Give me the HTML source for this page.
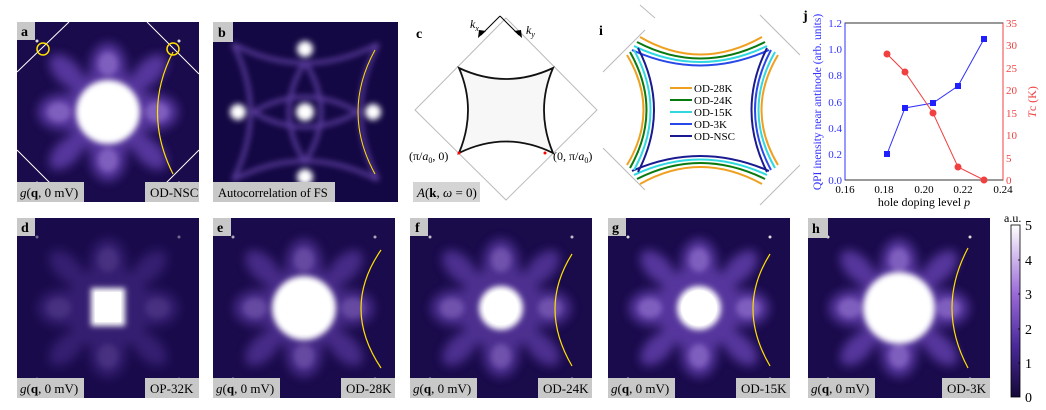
<!DOCTYPE html>
<html><head><meta charset="utf-8"><style>
body{margin:0;background:#fff;width:1046px;height:410px;overflow:hidden}
svg{display:block;font-family:"Liberation Serif",serif}
</style></head><body>
<svg width="1046" height="410" viewBox="0 0 1046 410" xmlns="http://www.w3.org/2000/svg">
<defs>
<filter id="bl" x="-20%" y="-20%" width="140%" height="140%"><feGaussianBlur stdDeviation="5"/></filter>
<filter id="bl2" x="-20%" y="-20%" width="140%" height="140%"><feGaussianBlur stdDeviation="3"/></filter>
<linearGradient id="cb" x1="0" y1="1" x2="0" y2="0">
<stop offset="0" stop-color="#140838"/><stop offset="0.3" stop-color="#4a2a9a"/><stop offset="0.6" stop-color="#9a6ad8"/><stop offset="1" stop-color="#ffffff"/></linearGradient>
<g id="lobes">
<rect width="182" height="180" fill="#1a0b4c"/>
<g filter="url(#bl)" fill="#6a44b8" opacity="0.75">
<ellipse cx="91" cy="45" rx="18" ry="24"/><ellipse cx="91" cy="135" rx="18" ry="24"/>
<ellipse cx="45" cy="90" rx="24" ry="18"/><ellipse cx="137" cy="90" rx="24" ry="18"/>
<ellipse cx="50" cy="50" rx="22" ry="12" transform="rotate(45 50 50)"/>
<ellipse cx="132" cy="50" rx="22" ry="12" transform="rotate(-45 132 50)"/>
<ellipse cx="50" cy="130" rx="22" ry="12" transform="rotate(-45 50 130)"/>
<ellipse cx="132" cy="130" rx="22" ry="12" transform="rotate(45 132 130)"/>
<circle cx="91" cy="90" r="42"/>
</g>
<g filter="url(#bl2)" fill="#a888e0" opacity="0.5">
<ellipse cx="91" cy="42" rx="10" ry="12"/><ellipse cx="91" cy="138" rx="10" ry="12"/>
<ellipse cx="42" cy="90" rx="12" ry="10"/><ellipse cx="140" cy="90" rx="12" ry="10"/>
</g>
<g fill="#ddd"><circle cx="20" cy="19" r="1.5"/><circle cx="162" cy="19" r="1.5"/><circle cx="20" cy="161" r="1.5"/><circle cx="162" cy="161" r="1.5"/></g>
</g>
</defs>

<!-- a -->
<g transform="translate(17,22)">
<use href="#lobes"/>
<circle cx="91" cy="90" r="32" fill="#fff" filter="url(#bl2)"/>
<circle cx="91" cy="90" r="24" fill="#fff"/>
<g stroke="#fff" stroke-width="1"><line x1="0" y1="50" x2="52" y2="0"/><line x1="130" y1="0" x2="182" y2="52"/><line x1="0" y1="128" x2="52" y2="180"/><line x1="130" y1="180" x2="182" y2="128"/></g>
<circle cx="26" cy="27" r="6" fill="none" stroke="#ffe000" stroke-width="1.5"/>
<circle cx="156" cy="27" r="6" fill="none" stroke="#ffe000" stroke-width="1.5"/>
<path d="M156 30 Q125 90 156 152" fill="none" stroke="#ffe000" stroke-width="1.2"/>
<rect width="18" height="18" fill="#c8c8c8"/><text x="4" y="14" font-size="14" font-weight="bold">a</text>
<rect x="0" y="160" width="67" height="20" fill="#c8c8c8"/><text x="3" y="175" font-size="13"><tspan font-style="italic">g</tspan>(<tspan font-weight="bold">q</tspan>, 0 mV)</text>
<rect x="128" y="160" width="54" height="20" fill="#c8c8c8"/><text x="133" y="175" font-size="13">OD-NSC</text>
</g>
<!-- b -->
<g transform="translate(213,22)">
<rect width="185" height="180" fill="#140844"/>
<g fill="none" stroke="#8a60d8" stroke-width="4" opacity="0.6" filter="url(#bl2)">
<path d="M20 22 Q92 60 165 22 M20 158 Q92 120 165 158 M20 22 Q55 90 20 158 M165 22 Q130 90 165 158"/>
<path d="M92 40 Q60 90 92 140 Q124 90 92 40 M40 90 Q92 60 145 90 Q92 120 40 90"/>
</g>
<g fill="#fff" filter="url(#bl2)"><circle cx="92" cy="90" r="9"/><circle cx="92" cy="27" r="8"/><circle cx="92" cy="155" r="8"/><circle cx="25" cy="90" r="8"/><circle cx="160" cy="90" r="8"/></g>
<path d="M162 28 Q128 90 162 152" fill="none" stroke="#ffe000" stroke-width="1"/>
<rect width="20" height="20" fill="#c8c8c8"/><text x="5" y="15" font-size="14" font-weight="bold">b</text>
<rect x="0" y="160" width="122" height="20" fill="#c8c8c8"/><text x="5" y="175" font-size="12.5">Autocorrelation of FS</text>
</g>
<!-- c -->
<g>
<polygon points="506,18 597,110 506,200 415,110" fill="#fff" stroke="#bbb" stroke-width="1"/>
<path d="M459 68 Q506 90 553 68 Q535 110 553 153 Q506 130 459 153 Q477 110 459 68Z" fill="#f7f7f7" stroke="#111" stroke-width="1.8"/>
<circle cx="459" cy="153" r="1.5" fill="red"/><circle cx="545" cy="153" r="1.5" fill="red"/>
<path d="M500 16 L481 35 M500 16 L519 35" stroke="#000" stroke-width="1" fill="none"/>
<path d="M478 38 l1-8 l7 1z M522 38 l-1-8 l-7 1z" fill="#000"/>
<text x="470" y="28" font-size="12" font-style="italic">k<tspan font-size="8" dy="3">x</tspan></text>
<text x="526" y="34" font-size="12" font-style="italic">k<tspan font-size="8" dy="3">y</tspan></text>
<text x="416" y="38" font-size="14" font-weight="bold">c</text>
<text x="409" y="160" font-size="12">(π/<tspan font-style="italic">a</tspan><tspan font-size="8" dy="3">0</tspan><tspan dy="-3">, 0)</tspan></text>
<text x="553" y="160" font-size="12">(0, π/<tspan font-style="italic">a</tspan><tspan font-size="8" dy="3">0</tspan><tspan dy="-3">)</tspan></text>
<rect x="413" y="182" width="67" height="20" fill="#d4d4d4"/>
<text x="417" y="197" font-size="13"><tspan font-style="italic">A</tspan>(<tspan font-weight="bold">k</tspan>, <tspan font-style="italic">ω</tspan> = 0)</text>
</g>
<!-- i -->
<g>
<text x="599" y="35" font-size="14" font-weight="bold">i</text>
<g stroke="#bbb" stroke-width="1" fill="none"><path d="M603 72 L645 30 M603 148 L645 190 M760 15 L800 55 M760 205 L800 165 M655 18 L640 5"/></g>
<g fill="none" stroke-width="2">
<path d="M640 37 Q700 72 762 37" stroke="#f0a020"/><path d="M637 42 Q700 75 765 42" stroke="#0a7a10"/><path d="M634 46 Q700 78 767 46" stroke="#30d8e0"/><path d="M632 50 Q700 81 769 50" stroke="#2848e8"/>
<path d="M640 184 Q700 150 762 184" stroke="#f0a020"/><path d="M637 179 Q700 147 765 179" stroke="#0a7a10"/><path d="M634 175 Q700 144 767 175" stroke="#30d8e0"/><path d="M632 171 Q700 141 769 171" stroke="#1a1a90"/>
<path d="M627 55 Q660 110 627 165" stroke="#f0a020"/><path d="M630 52 Q663 110 630 168" stroke="#0a7a10"/><path d="M634 50 Q667 110 634 170" stroke="#30d8e0"/><path d="M638 48 Q670 110 638 172" stroke="#1a1a90"/>
<path d="M778 55 Q745 110 778 165" stroke="#f0a020"/><path d="M775 52 Q742 110 775 168" stroke="#30d8e0"/><path d="M771 50 Q739 110 771 170" stroke="#2848e8"/><path d="M767 48 Q736 110 767 172" stroke="#1a1a90"/>
</g>
<g stroke-width="2"><line x1="670" y1="88" x2="692" y2="88" stroke="#f0a020"/><line x1="670" y1="100" x2="692" y2="100" stroke="#0a7a10"/><line x1="670" y1="112" x2="692" y2="112" stroke="#30d8e0"/><line x1="670" y1="124" x2="692" y2="124" stroke="#2848e8"/><line x1="670" y1="136" x2="692" y2="136" stroke="#1a1a90"/></g>
<g font-size="11"><text x="694" y="92">OD-28K</text><text x="694" y="104">OD-24K</text><text x="694" y="116">OD-15K</text><text x="694" y="128">OD-3K</text><text x="694" y="140">OD-NSC</text></g>
</g>
<!-- j -->
<g>
<text x="803" y="20" font-size="14" font-weight="bold">j</text>
<rect x="845" y="23" width="158" height="157" fill="none" stroke="#000" stroke-width="0.8"/>
<line x1="845" y1="23" x2="845" y2="180" stroke="#3030ff" stroke-width="1"/>
<line x1="1003" y1="23" x2="1003" y2="180" stroke="#f04040" stroke-width="1"/>
<g font-size="11" text-anchor="end" fill="#3030ff">
<text x="842" y="27">1.2</text><text x="842" y="53">1.0</text><text x="842" y="79">0.8</text><text x="842" y="106">0.6</text><text x="842" y="132">0.4</text><text x="842" y="158">0.2</text><text x="842" y="184">0.0</text></g>
<g font-size="11" fill="#f04040">
<text x="1006" y="27">35</text><text x="1006" y="49">30</text><text x="1006" y="72">25</text><text x="1006" y="94">20</text><text x="1006" y="117">15</text><text x="1006" y="139">10</text><text x="1006" y="162">5</text><text x="1006" y="184">0</text></g>
<g font-size="11" text-anchor="middle"><text x="845" y="193">0.16</text><text x="884" y="193">0.18</text><text x="924" y="193">0.20</text><text x="963" y="193">0.22</text><text x="1003" y="193">0.24</text></g>
<text x="924" y="206" font-size="12" text-anchor="middle">hole doping level <tspan font-style="italic">p</tspan></text>
<text transform="translate(821,102) rotate(-90)" font-size="11.5" text-anchor="middle" fill="#3030ff">QPI inensity near antinode (arb. units)</text>
<text transform="translate(1036,102) rotate(-90)" font-size="12" text-anchor="middle" fill="#f04040"><tspan font-style="italic">T</tspan>c (K)</text>
<polyline points="887,154 905,108 933,103 958,86 984,39" fill="none" stroke="#3030ff" stroke-width="1"/>
<g fill="#2020ff"><rect x="884" y="151" width="6" height="6"/><rect x="902" y="105" width="6" height="6"/><rect x="930" y="100" width="6" height="6"/><rect x="955" y="83" width="6" height="6"/><rect x="981" y="36" width="6" height="6"/></g>
<polyline points="887,54 905,72 933,113 958,167 984,180" fill="none" stroke="#f04040" stroke-width="1"/>
<g fill="#f04040"><circle cx="887" cy="54" r="3.5"/><circle cx="905" cy="72" r="3.5"/><circle cx="933" cy="113" r="3.5"/><circle cx="958" cy="167" r="3.5"/><circle cx="984" cy="180" r="3.5"/></g>
</g>

<!-- bottom row -->
<g transform="translate(17,218)"><use href="#lobes"/><rect width="182" height="180" fill="#1a0b4c" opacity="0.55"/><rect x="74" y="70" width="34" height="38" fill="#fff" filter="url(#bl2)"/><rect x="78" y="74" width="26" height="30" fill="#fff"/>
<rect width="18" height="18" fill="#c8c8c8"/><text x="4" y="14" font-size="14" font-weight="bold">d</text>
<rect x="0" y="160" width="67" height="20" fill="#c8c8c8"/><text x="3" y="175" font-size="13"><tspan font-style="italic">g</tspan>(<tspan font-weight="bold">q</tspan>, 0 mV)</text>
<rect x="128" y="160" width="54" height="20" fill="#c8c8c8"/><text x="133" y="175" font-size="13">OP-32K</text></g>

<g transform="translate(213,218)"><use href="#lobes"/><rect width="182" height="180" fill="#1a0b4c" opacity="0.25"/><circle cx="91" cy="90" r="32" fill="#fff" filter="url(#bl2)"/><circle cx="91" cy="90" r="26" fill="#fff"/>
<path d="M168 32 Q128 90 168 150" fill="none" stroke="#ffe000" stroke-width="1.2"/>
<rect width="18" height="18" fill="#c8c8c8"/><text x="4" y="14" font-size="14" font-weight="bold">e</text>
<rect x="0" y="160" width="67" height="20" fill="#c8c8c8"/><text x="3" y="175" font-size="13"><tspan font-style="italic">g</tspan>(<tspan font-weight="bold">q</tspan>, 0 mV)</text>
<rect x="128" y="160" width="54" height="20" fill="#c8c8c8"/><text x="133" y="175" font-size="13">OD-28K</text></g>

<g transform="translate(410,218)"><use href="#lobes"/><rect width="182" height="180" fill="#1a0b4c" opacity="0.15"/><circle cx="91" cy="90" r="22" fill="#fff" filter="url(#bl2)"/><circle cx="91" cy="90" r="17" fill="#fff"/>
<path d="M162 36 Q128 90 162 148" fill="none" stroke="#ffe000" stroke-width="1.2"/>
<rect width="18" height="18" fill="#c8c8c8"/><text x="5" y="14" font-size="14" font-weight="bold">f</text>
<rect x="0" y="160" width="67" height="20" fill="#c8c8c8"/><text x="3" y="175" font-size="13"><tspan font-style="italic">g</tspan>(<tspan font-weight="bold">q</tspan>, 0 mV)</text>
<rect x="128" y="160" width="54" height="20" fill="#c8c8c8"/><text x="133" y="175" font-size="13">OD-24K</text></g>

<g transform="translate(608,218)"><use href="#lobes"/><circle cx="91" cy="90" r="22" fill="#fff" filter="url(#bl2)"/><circle cx="91" cy="90" r="18" fill="#fff"/>
<path d="M162 36 Q128 90 162 148" fill="none" stroke="#ffe000" stroke-width="1.2"/>
<rect width="18" height="18" fill="#c8c8c8"/><text x="4" y="14" font-size="14" font-weight="bold">g</text>
<rect x="0" y="160" width="67" height="20" fill="#c8c8c8"/><text x="3" y="175" font-size="13"><tspan font-style="italic">g</tspan>(<tspan font-weight="bold">q</tspan>, 0 mV)</text>
<rect x="128" y="160" width="54" height="20" fill="#c8c8c8"/><text x="133" y="175" font-size="13">OD-15K</text></g>

<g transform="translate(808,218)"><use href="#lobes"/><circle cx="91" cy="90" r="36" fill="#fff" filter="url(#bl2)"/><circle cx="91" cy="90" r="29" fill="#fff"/>
<path d="M160 30 Q128 90 160 150" fill="none" stroke="#ffe000" stroke-width="1.2"/>
<rect width="20" height="20" fill="#c8c8c8"/><text x="4" y="15" font-size="14" font-weight="bold">h</text>
<rect x="0" y="160" width="67" height="20" fill="#c8c8c8"/><text x="3" y="175" font-size="13"><tspan font-style="italic">g</tspan>(<tspan font-weight="bold">q</tspan>, 0 mV)</text>
<rect x="134" y="160" width="48" height="20" fill="#c8c8c8"/><text x="139" y="175" font-size="13">OD-3K</text></g>

<!-- colorbar -->
<rect x="1011" y="225" width="9" height="172" fill="url(#cb)" stroke="#000" stroke-width="0.8"/>
<g stroke="#000" stroke-width="0.8"><line x1="1018" y1="260" x2="1020" y2="260"/><line x1="1018" y1="294" x2="1020" y2="294"/><line x1="1018" y1="329" x2="1020" y2="329"/><line x1="1018" y1="363" x2="1020" y2="363"/></g>
<g font-size="14"><text x="1025" y="230">5</text><text x="1025" y="265">4</text><text x="1025" y="299">3</text><text x="1025" y="334">2</text><text x="1025" y="368">1</text><text x="1025" y="402">0</text></g>
<text x="1004" y="222" font-size="12">a.u.</text>
</svg>
</body></html>
